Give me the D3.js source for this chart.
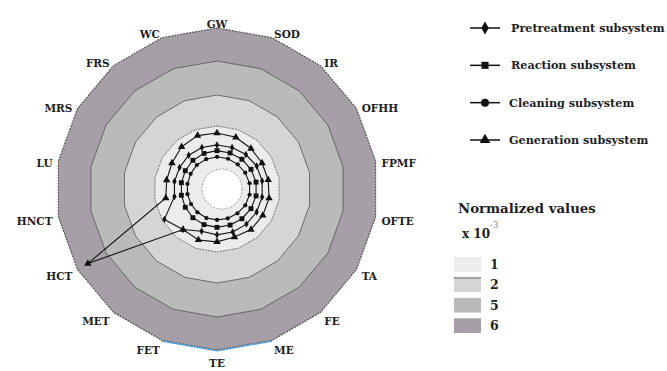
<!DOCTYPE html>
<html>
<head>
<meta charset="utf-8">
<script src="https://cdn.jsdelivr.net/npm/d3@7"></script>
<style>
  body { margin: 0; background: #fff; }
  text { font-family: "DejaVu Serif", serif; font-weight: bold; fill: #1e1e1e; }
</style>
</head>
<body>
<svg id="chart" width="667" height="371"></svg>
<script>
// impact categories, clockwise from the top
const categories = ["GW", "SOD", "IR", "OFHH", "FPMF", "OFTE", "TA", "FE", "ME",
                    "TE", "FET", "MET", "HCT", "HNCT", "LU", "MRS", "FRS", "WC"];

// normalized values (x 10^-3)
const generation   = [0.84, 0.82, 0.77, 0.75, 0.75, 0.77, 0.77, 0.77, 0.73,
                      0.77, 0.80, 0.77, 5.64, 0.75, 0.73, 0.75, 0.82, 0.86];
const pretreatment = [0.57, 0.57, 0.59, 0.61, 0.61, 0.61, 0.61, 0.61, 0.61,
                      0.61, 0.59, 0.77, 0.95, 0.55, 0.55, 0.55, 0.57, 0.57];
const reaction     = [0.44, 0.44, 0.45, 0.46, 0.47, 0.47, 0.46, 0.45, 0.44,
                      0.44, 0.43, 0.42, 0.40, 0.39, 0.39, 0.40, 0.42, 0.43];
const cleaning     = [0.30, 0.30, 0.30, 0.31, 0.32, 0.32, 0.31, 0.29, 0.28,
                      0.27, 0.27, 0.26, 0.25, 0.25, 0.25, 0.26, 0.28, 0.29];

// background bands and their legend labels
const ringLevels = [6, 5, 2, 1];
const ringLabels = ["1", "2", "5", "6"];

const seriesNames = ["Pretreatment subsystem", "Reaction subsystem",
                     "Cleaning subsystem", "Generation subsystem"];

const svg = d3.select("#chart");
const cx = 217, cy = 189;

// radial scale is piecewise, the bands are not evenly spaced
const r = d3.scaleLinear().domain([0, 1, 2, 5, 6]).range([19, 63, 94, 128, 161]);
const angle = d3.scaleLinear().domain([0, categories.length]).range([0, 2 * Math.PI]);

const ringColor = d3.scaleOrdinal()
  .domain([1, 2, 5, 6])
  .range(["#ececec", "#d5d5d5", "#bababa", "#a69fa8"]);

const g = svg.append("g").attr("transform", "translate(" + cx + "," + cy + ")");

// polygon bands, biggest first
const ringLine = level => d3.lineRadial()
  .angle((d, i) => angle(i))
  .radius(() => r(level))
  .curve(d3.curveLinearClosed)(categories);

g.selectAll(".ring")
  .data(ringLevels)
  .enter().append("path")
  .attr("class", "ring")
  .attr("d", d => ringLine(d))
  .attr("fill", d => ringColor(d))
  .attr("stroke", "#555")
  .attr("stroke-width", d => d === 6 ? 1.2 : 0.8)
  .attr("stroke-dasharray", d => (d === 6 || d === 1) ? "2,1" : null);

// thin blue edge that shows on the lower rim
g.append("path")
  .attr("d", d3.lineRadial()
    .angle(i => angle(i))
    .radius(r(6) + 0.8)(d3.range(8, 11)))
  .attr("fill", "none")
  .attr("stroke", "#4f9fdc")
  .attr("stroke-width", 1.2);

// white hole in the middle (sits a little right of centre in the original)
g.append("circle")
  .attr("cx", 5)
  .attr("r", r(0) + 1)
  .attr("fill", "#fff")
  .attr("stroke", "#888")
  .attr("stroke-width", 0.8)
  .attr("stroke-dasharray", "2,1.5");

// series lines + markers
const series = [
  { name: seriesNames[3], values: generation,   symbol: d3.symbolTriangle, size: 24 },
  { name: seriesNames[0], values: pretreatment, symbol: d3.symbolDiamond,  size: 16 },
  { name: seriesNames[1], values: reaction,     symbol: d3.symbolSquare,   size: 24 },
  { name: seriesNames[2], values: cleaning,     symbol: d3.symbolCircle,   size: 14 }
];

const line = d3.lineRadial()
  .angle((d, i) => angle(i))
  .radius(d => r(d))
  .curve(d3.curveLinearClosed);

series.forEach(s => {
  g.append("path")
    .attr("d", line(s.values))
    .attr("fill", "none")
    .attr("stroke", "#111")
    .attr("stroke-width", 1.1);

  g.selectAll(null)
    .data(s.values)
    .enter().append("path")
    .attr("transform", (d, i) => {
      const a = angle(i);
      return "translate(" + (r(d) * Math.sin(a)) + "," + (-r(d) * Math.cos(a)) + ")";
    })
    .attr("d", d3.symbol().type(s.symbol).size(s.size))
    .attr("fill", "#111");
});

// category labels, placed so the near edge of the text sits past the rim
const labelR = 163;
g.selectAll(".cat")
  .data(categories)
  .enter().append("text")
  .attr("class", "cat")
  .attr("font-size", 10.5)
  .attr("text-anchor", "middle")
  .attr("dominant-baseline", "central")
  .text(d => d)
  .each(function(d, i) {
    const a = angle(i);
    const s = Math.sin(a), c = Math.cos(a);
    const w = this.getComputedTextLength();
    const side = Math.abs(s) < 1e-6 ? 0 : Math.sign(s);
    const x = (labelR + 4) * s + side * w / 2;
    const y = -(labelR + 5) * c + 3 + (c < -0.99 ? 3 : 0);
    d3.select(this).attr("x", x).attr("y", y);
  });

// series legend
const legendSymbols = [d3.symbolDiamond, d3.symbolSquare, d3.symbolCircle, d3.symbolTriangle];
const legendY = d3.scalePoint().domain(seriesNames).range([28, 140]);

const leg = svg.append("g");
seriesNames.forEach((name, i) => {
  const y = legendY(name);
  leg.append("line")
    .attr("x1", 470).attr("x2", 500)
    .attr("y1", y).attr("y2", y)
    .attr("stroke", "#111").attr("stroke-width", 1.5);
  leg.append("path")
    .attr("transform", "translate(485," + y + ")")
    .attr("d", d3.symbol().type(legendSymbols[i]).size(50))
    .attr("fill", "#111");
  leg.append("text")
    .attr("x", i < 2 ? 511 : 509)
    .attr("y", y + 4)
    .attr("font-size", 11.2)
    .text(name);
});

// band legend
svg.append("text")
  .attr("x", 458).attr("y", 213)
  .attr("font-size", 13.3)
  .text("Normalized values");

const xt = svg.append("text")
  .attr("x", 462).attr("y", 238)
  .attr("font-size", 12);
xt.append("tspan").text("x 10");
xt.append("tspan")
  .attr("dy", -10)
  .attr("font-size", 8.5)
  .attr("font-weight", "normal")
  .style("fill", "#888")
  .text("-3");

const swatchY = d3.scaleBand().domain(ringLabels).range([257, 333]).paddingInner(0.28);
ringLabels.forEach(lbl => {
  const y = swatchY(lbl);
  svg.append("rect")
    .attr("x", 454).attr("y", y)
    .attr("width", 27).attr("height", swatchY.bandwidth())
    .attr("fill", ringColor(+lbl));
  if (lbl === "2") {
    svg.append("line")
      .attr("x1", 454).attr("x2", 481)
      .attr("y1", y + 0.5).attr("y2", y + 0.5)
      .attr("stroke", "#666").attr("stroke-width", 1);
  }
  svg.append("text")
    .attr("x", 490)
    .attr("y", y + swatchY.bandwidth() / 2)
    .attr("dominant-baseline", "central")
    .attr("font-size", 12.5)
    .text(lbl);
});
</script>
</body>
</html>
